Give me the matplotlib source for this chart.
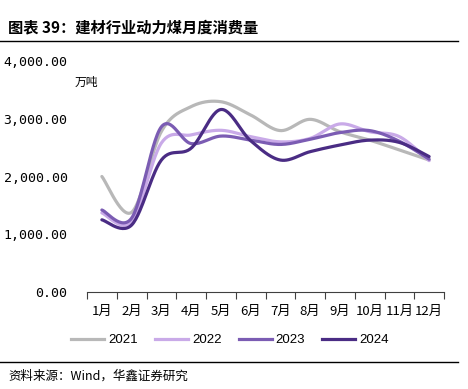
import numpy as np
from matplotlib import pyplot as plt
from matplotlib.lines import Line2D

plt.rcParams['font.family'] = ['Noto Sans CJK SC', 'DejaVu Sans']

months = ["1月", "2月", "3月", "4月", "5月", "6月", "7月", "8月", "9月", "10月", "11月", "12月"]
y2021 = [2000, 1380, 2780, 3210, 3295, 3065, 2795, 2990, 2775, 2630, 2460, 2285]
y2022 = [1370, 1220, 2580, 2720, 2800, 2690, 2600, 2660, 2910, 2775, 2690, 2275]
y2023 = [1420, 1280, 2860, 2570, 2700, 2630, 2555, 2645, 2760, 2795, 2610, 2300]
y2024 = [1250, 1160, 2285, 2490, 3160, 2620, 2285, 2430, 2545, 2630, 2590, 2345]
years = ["2021", "2022", "2023", "2024"]
colors = ["#b8b8b8", "#c9aae8", "#7b5cb3", "#4a2c84"]


def smooth(x, y, n=30):
    # excel-like smoothed line (catmull-rom bezier)
    x = np.asarray(x, float)
    y = np.asarray(y, float)
    xs, ys = [], []
    for i in range(len(x) - 1):
        p0 = (x[max(i - 1, 0)], y[max(i - 1, 0)])
        p1 = (x[i], y[i])
        p2 = (x[i + 1], y[i + 1])
        p3 = (x[min(i + 2, len(x) - 1)], y[min(i + 2, len(x) - 1)])
        c1 = (p1[0] + (p2[0] - p0[0]) / 6, p1[1] + (p2[1] - p0[1]) / 6)
        c2 = (p2[0] - (p3[0] - p1[0]) / 6, p2[1] - (p3[1] - p1[1]) / 6)
        t = np.linspace(0, 1, n)
        bx = (1-t)**3*p1[0] + 3*(1-t)**2*t*c1[0] + 3*(1-t)*t**2*c2[0] + t**3*p2[0]
        by = (1-t)**3*p1[1] + 3*(1-t)**2*t*c1[1] + 3*(1-t)*t**2*c2[1] + t**3*p2[1]
        xs.extend(bx)
        ys.extend(by)
    return np.array(xs), np.array(ys)


fig = plt.figure(figsize=(4.68, 3.89), dpi=100)
ax = fig.add_axes([87/468, (389-292)/389, (444-87)/468, (292-61)/389])

x = np.arange(len(months))
for yr, vals, c in zip(years, [y2021, y2022, y2023, y2024], colors):
    sx, sy = smooth(x, vals)
    ax.plot(sx, sy, color=c, lw=2.3, solid_capstyle='round')

ax.set_xlim(-0.5, 11.5)
ax.set_ylim(0, 4000)
ax.set_yticks([0, 1000, 2000, 3000, 4000])
ax.set_yticklabels(["0.00", "1,000.00", "2,000.00", "3,000.00", "4,000.00"],
                   family='DejaVu Sans Mono', fontsize=9.5)
ax.set_xticks(np.arange(-0.5, 12, 1))
ax.set_xticks(x, minor=True)
ax.set_xticklabels([])
ax.set_xticklabels(months, minor=True, fontsize=9.5)
ax.tick_params(axis='x', which='major', length=5, color='#404040', direction='out')
ax.tick_params(axis='x', which='minor', length=0, pad=9)
ax.tick_params(axis='y', length=0, pad=14)
for s in ['top', 'right', 'left']:
    ax.spines[s].set_visible(False)
ax.spines['bottom'].set_color('#404040')

fig.text(75/468, 1 - 82/389, "万吨", fontsize=8.5, ha='left', va='center')

handles = [Line2D([0], [0], color=c, lw=2.3) for c in colors]
fig.legend(handles, years, loc='center', bbox_to_anchor=(230/468, 1 - 340/389),
           ncol=4, frameon=False, handlelength=2.5,
           columnspacing=1.3, handletextpad=0.3,
           prop={'family': 'Liberation Sans', 'size': 9.5})

fig.text(8/468, 1 - 27/389, "图表 39：建材行业动力煤月度消费量", fontsize=11,
         fontweight='bold', ha='left', va='center')
fig.add_artist(Line2D([0, 458/468], [1 - 41/389, 1 - 41/389], color='black', lw=1))
fig.add_artist(Line2D([0, 458/468], [1 - 362/389, 1 - 362/389], color='black', lw=1))
fig.text(8/468, 1 - 376/389, "资料来源：Wind，华鑫证券研究", fontsize=9,
         ha='left', va='center')

fig.savefig('out.png', dpi=100)
